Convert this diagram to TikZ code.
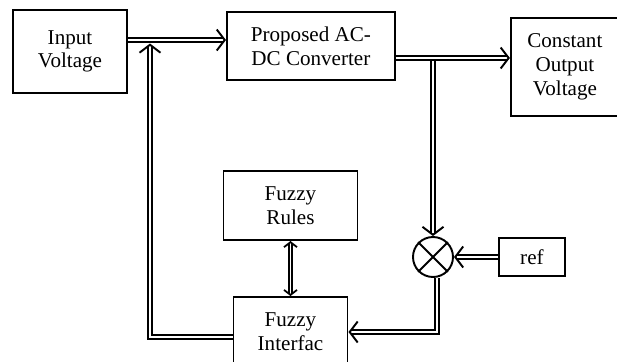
\documentclass[tikz,border=0pt]{standalone}
\usepackage{fontspec}
\setmainfont{Liberation Serif}
\usepackage{tikz}
\usetikzlibrary{arrows.meta,arrows,shapes,positioning,calc}
\tikzset{
    block/.style={draw, line width=1.1pt, align=center, font=\fontsize{12}{13.5}\selectfont},
    sumnode/.style={draw, circle, line width=1.1pt, minimum size=0.8cm, inner sep=0pt},
    flow/.style={double, double distance=1.5pt, line width=0.9pt, -{Straight Barb[length=1.6mm, width=4.2mm, line width=1.1pt]}},
    bothway/.style={double, double distance=0.8pt, line width=0.9pt, {Straight Barb[length=1mm, width=2.6mm, line width=1pt]}-{Straight Barb[length=1mm, width=2.6mm, line width=1pt]}}
}
\begin{document}
\begin{tikzpicture}
    \useasboundingbox (0,0) rectangle (12.34,-7.24);
    \node[block, minimum width=2.28cm, minimum height=1.66cm] (in) at (1.40,-1.03) {Input\\Voltage};
    \node[block, minimum width=3.36cm, minimum height=1.36cm, right=1.96cm of in, yshift=0.11cm] (conv) {Proposed AC-\\DC Converter};
    \node[block, minimum width=2.16cm, minimum height=1.96cm, right=2.28cm of conv, yshift=-0.42cm] (out) {Constant\\Output\\Voltage};
    \node[block, minimum width=2.28cm, minimum height=1.4cm] (fis) at (5.81,-6.64) {Fuzzy\\Interfac};
    \node[block, minimum width=2.68cm, minimum height=1.38cm, above=1.1cm of fis] (rules) {Fuzzy\\Rules};
    \node[sumnode] (sum) at (8.66,-5.14) {};
    \node[block, minimum width=1.32cm, minimum height=0.76cm, right=0.88cm of sum] (ref) {ref};
    \draw[line width=1.1pt] (sum.north west) -- (sum.south east) (sum.north east) -- (sum.south west);

    \coordinate (fbk) at ([yshift=2.3mm]in.east -| 3.0,0);
    \coordinate (tap) at ([yshift=-2.4mm]conv.east -| sum);

    \draw[flow] ([yshift=2.3mm]in.east) -- ([yshift=2.3mm]in.east -| conv.west);
    \draw[flow] ([yshift=-2.4mm]conv.east) -- ([yshift=-2.4mm]conv.east -| out.west);
    \draw[flow] ([yshift=-0.6mm]tap) -- (sum.north);
    \draw[flow] (ref) -- (sum);
    \draw[flow] ([xshift=0.8mm]sum.south) |- (fis.east);
    \draw[flow] ([yshift=-1mm]fis.west) -| ([yshift=-0.7mm]fbk);
    \draw[bothway] (rules) -- (fis);
\end{tikzpicture}
\end{document}
